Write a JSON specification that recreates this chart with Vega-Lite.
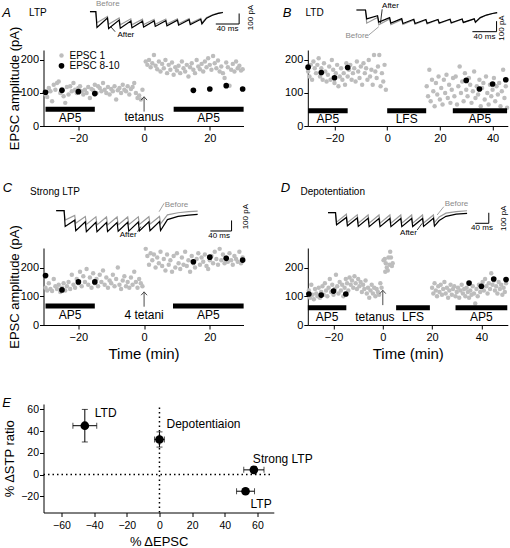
{
"$schema": "https://vega.github.io/schema/vega-lite/v6.json",
"padding": {"left": 1.5, "top": 0, "right": 0, "bottom": 0},
"bounds": "flush",
"align": "none",
"columns": 2,
"spacing": {"row": 0, "column": 64.3},
"config": {
  "font": "Liberation Sans",
  "view": {"stroke": null},
  "axis": {"domainColor": "#000", "tickColor": "#000", "labelColor": "#000", "titleColor": "#000", "tickSize": 4, "labelFontSize": 11, "titleFontSize": 13, "titleFontWeight": "normal", "grid": false, "labelOverlap": false, "labelFlush": false, "labelFont": "Liberation Sans", "titleFont": "Liberation Sans"},
  "axisX": {"labelPadding": 2},
  "axisY": {"labelPadding": 1},
  "text": {"font": "Liberation Sans", "fontSize": 12, "baseline": "middle", "color": "#000"}
},
"datasets": {
  "A": [
    {"t":-30,"a":95,"s":"EPSC 1"},{"t":-29.5,"a":88,"s":"EPSC 1"},{"t":-29,"a":115,"s":"EPSC 1"},{"t":-28.5,"a":105,"s":"EPSC 1"},{"t":-28,"a":75,"s":"EPSC 1"},{"t":-27.5,"a":125,"s":"EPSC 1"},{"t":-27,"a":110,"s":"EPSC 1"},{"t":-26.5,"a":130,"s":"EPSC 1"},{"t":-26,"a":135,"s":"EPSC 1"},{"t":-25.5,"a":100,"s":"EPSC 1"},
    {"t":-25,"a":112,"s":"EPSC 1"},{"t":-24.5,"a":90,"s":"EPSC 1"},{"t":-24,"a":70,"s":"EPSC 1"},{"t":-23.5,"a":118,"s":"EPSC 1"},{"t":-23,"a":95,"s":"EPSC 1"},{"t":-22.5,"a":120,"s":"EPSC 1"},{"t":-22,"a":105,"s":"EPSC 1"},{"t":-21.5,"a":130,"s":"EPSC 1"},{"t":-21,"a":110,"s":"EPSC 1"},{"t":-20.5,"a":100,"s":"EPSC 1"},
    {"t":-20,"a":115,"s":"EPSC 1"},{"t":-19.5,"a":120,"s":"EPSC 1"},{"t":-19,"a":105,"s":"EPSC 1"},{"t":-18.5,"a":95,"s":"EPSC 1"},{"t":-18,"a":110,"s":"EPSC 1"},{"t":-17.5,"a":100,"s":"EPSC 1"},{"t":-17,"a":118,"s":"EPSC 1"},{"t":-16.5,"a":85,"s":"EPSC 1"},{"t":-16,"a":112,"s":"EPSC 1"},{"t":-15.5,"a":108,"s":"EPSC 1"},
    {"t":-15,"a":125,"s":"EPSC 1"},{"t":-14.5,"a":100,"s":"EPSC 1"},{"t":-14,"a":120,"s":"EPSC 1"},{"t":-13.5,"a":115,"s":"EPSC 1"},{"t":-13,"a":105,"s":"EPSC 1"},{"t":-12.5,"a":130,"s":"EPSC 1"},{"t":-12,"a":110,"s":"EPSC 1"},{"t":-11.5,"a":100,"s":"EPSC 1"},{"t":-11,"a":118,"s":"EPSC 1"},{"t":-10.5,"a":95,"s":"EPSC 1"},
    {"t":-10,"a":112,"s":"EPSC 1"},{"t":-9.5,"a":105,"s":"EPSC 1"},{"t":-9,"a":120,"s":"EPSC 1"},{"t":-8.5,"a":80,"s":"EPSC 1"},{"t":-8,"a":108,"s":"EPSC 1"},{"t":-7.5,"a":115,"s":"EPSC 1"},{"t":-7,"a":100,"s":"EPSC 1"},{"t":-6.5,"a":125,"s":"EPSC 1"},{"t":-6,"a":110,"s":"EPSC 1"},{"t":-5.5,"a":105,"s":"EPSC 1"},
    {"t":-5,"a":120,"s":"EPSC 1"},{"t":-4.5,"a":95,"s":"EPSC 1"},{"t":-4,"a":112,"s":"EPSC 1"},{"t":-3.5,"a":118,"s":"EPSC 1"},{"t":-3,"a":130,"s":"EPSC 1"},{"t":-2.5,"a":100,"s":"EPSC 1"},{"t":-2,"a":85,"s":"EPSC 1"},{"t":-1.5,"a":92,"s":"EPSC 1"},{"t":-1,"a":80,"s":"EPSC 1"},{"t":-0.5,"a":110,"s":"EPSC 1"},
    {"t":0.5,"a":195,"s":"EPSC 1"},{"t":1,"a":185,"s":"EPSC 1"},{"t":1.5,"a":200,"s":"EPSC 1"},{"t":2,"a":178,"s":"EPSC 1"},{"t":2.5,"a":190,"s":"EPSC 1"},{"t":3,"a":215,"s":"EPSC 1"},{"t":3.5,"a":182,"s":"EPSC 1"},{"t":4,"a":172,"s":"EPSC 1"},{"t":4.5,"a":195,"s":"EPSC 1"},{"t":5,"a":165,"s":"EPSC 1"},
    {"t":5.5,"a":188,"s":"EPSC 1"},{"t":6,"a":175,"s":"EPSC 1"},{"t":6.5,"a":200,"s":"EPSC 1"},{"t":7,"a":160,"s":"EPSC 1"},{"t":7.5,"a":185,"s":"EPSC 1"},{"t":8,"a":170,"s":"EPSC 1"},{"t":8.5,"a":192,"s":"EPSC 1"},{"t":9,"a":155,"s":"EPSC 1"},{"t":9.5,"a":178,"s":"EPSC 1"},{"t":10,"a":168,"s":"EPSC 1"},
    {"t":10.5,"a":182,"s":"EPSC 1"},{"t":11,"a":160,"s":"EPSC 1"},{"t":11.5,"a":195,"s":"EPSC 1"},{"t":12,"a":175,"s":"EPSC 1"},{"t":12.5,"a":165,"s":"EPSC 1"},{"t":13,"a":185,"s":"EPSC 1"},{"t":13.5,"a":150,"s":"EPSC 1"},{"t":14,"a":178,"s":"EPSC 1"},{"t":14.5,"a":190,"s":"EPSC 1"},{"t":15,"a":170,"s":"EPSC 1"},
    {"t":15.5,"a":160,"s":"EPSC 1"},{"t":16,"a":200,"s":"EPSC 1"},{"t":16.5,"a":180,"s":"EPSC 1"},{"t":17,"a":172,"s":"EPSC 1"},{"t":17.5,"a":188,"s":"EPSC 1"},{"t":18,"a":165,"s":"EPSC 1"},{"t":18.5,"a":195,"s":"EPSC 1"},{"t":19,"a":178,"s":"EPSC 1"},{"t":19.5,"a":205,"s":"EPSC 1"},{"t":20,"a":185,"s":"EPSC 1"},
    {"t":20.5,"a":170,"s":"EPSC 1"},{"t":21,"a":212,"s":"EPSC 1"},{"t":21.5,"a":190,"s":"EPSC 1"},{"t":22,"a":175,"s":"EPSC 1"},{"t":22.5,"a":198,"s":"EPSC 1"},{"t":23,"a":165,"s":"EPSC 1"},{"t":23.5,"a":180,"s":"EPSC 1"},{"t":24,"a":160,"s":"EPSC 1"},{"t":24.5,"a":145,"s":"EPSC 1"},{"t":25,"a":192,"s":"EPSC 1"},
    {"t":25.5,"a":178,"s":"EPSC 1"},{"t":26,"a":122,"s":"EPSC 1"},{"t":26.5,"a":170,"s":"EPSC 1"},{"t":27,"a":188,"s":"EPSC 1"},{"t":27.5,"a":165,"s":"EPSC 1"},{"t":28,"a":195,"s":"EPSC 1"},{"t":28.5,"a":175,"s":"EPSC 1"},{"t":29,"a":182,"s":"EPSC 1"},{"t":29.5,"a":168,"s":"EPSC 1"},{"t":30,"a":172,"s":"EPSC 1"},
    {"t":-30,"a":102,"s":"EPSC 8-10"},{"t":-25,"a":108,"s":"EPSC 8-10"},{"t":-20,"a":104,"s":"EPSC 8-10"},{"t":-15,"a":98,"s":"EPSC 8-10"},{"t":15,"a":108,"s":"EPSC 8-10"},{"t":20,"a":112,"s":"EPSC 8-10"},{"t":25,"a":122,"s":"EPSC 8-10"},{"t":30,"a":112,"s":"EPSC 8-10"}
  ],
  "B": [
    {"t":-30,"a":165,"s":"EPSC 1"},{"t":-29.5,"a":150,"s":"EPSC 1"},{"t":-29,"a":185,"s":"EPSC 1"},{"t":-28.5,"a":140,"s":"EPSC 1"},{"t":-28,"a":195,"s":"EPSC 1"},{"t":-27.5,"a":175,"s":"EPSC 1"},{"t":-27,"a":160,"s":"EPSC 1"},{"t":-26.5,"a":185,"s":"EPSC 1"},{"t":-26,"a":205,"s":"EPSC 1"},{"t":-25.5,"a":150,"s":"EPSC 1"},
    {"t":-25,"a":175,"s":"EPSC 1"},{"t":-24.5,"a":140,"s":"EPSC 1"},{"t":-24,"a":190,"s":"EPSC 1"},{"t":-23.5,"a":165,"s":"EPSC 1"},{"t":-23,"a":135,"s":"EPSC 1"},{"t":-22.5,"a":155,"s":"EPSC 1"},{"t":-22,"a":180,"s":"EPSC 1"},{"t":-21.5,"a":140,"s":"EPSC 1"},{"t":-21,"a":200,"s":"EPSC 1"},{"t":-20.5,"a":170,"s":"EPSC 1"},
    {"t":-20,"a":130,"s":"EPSC 1"},{"t":-19.5,"a":160,"s":"EPSC 1"},{"t":-19,"a":185,"s":"EPSC 1"},{"t":-18.5,"a":120,"s":"EPSC 1"},{"t":-18,"a":150,"s":"EPSC 1"},{"t":-17.5,"a":175,"s":"EPSC 1"},{"t":-17,"a":140,"s":"EPSC 1"},{"t":-16.5,"a":160,"s":"EPSC 1"},{"t":-16,"a":125,"s":"EPSC 1"},{"t":-15.5,"a":190,"s":"EPSC 1"},
    {"t":-15,"a":150,"s":"EPSC 1"},{"t":-14.5,"a":170,"s":"EPSC 1"},{"t":-14,"a":185,"s":"EPSC 1"},{"t":-13.5,"a":140,"s":"EPSC 1"},{"t":-13,"a":160,"s":"EPSC 1"},{"t":-12.5,"a":175,"s":"EPSC 1"},{"t":-12,"a":135,"s":"EPSC 1"},{"t":-11.5,"a":195,"s":"EPSC 1"},{"t":-11,"a":165,"s":"EPSC 1"},{"t":-10.5,"a":145,"s":"EPSC 1"},
    {"t":-10,"a":180,"s":"EPSC 1"},{"t":-9.5,"a":125,"s":"EPSC 1"},{"t":-9,"a":190,"s":"EPSC 1"},{"t":-8.5,"a":160,"s":"EPSC 1"},{"t":-8,"a":175,"s":"EPSC 1"},{"t":-7.5,"a":140,"s":"EPSC 1"},{"t":-7,"a":200,"s":"EPSC 1"},{"t":-6.5,"a":150,"s":"EPSC 1"},{"t":-6,"a":170,"s":"EPSC 1"},{"t":-5.5,"a":125,"s":"EPSC 1"},
    {"t":-5,"a":215,"s":"EPSC 1"},{"t":-4.5,"a":165,"s":"EPSC 1"},{"t":-4,"a":145,"s":"EPSC 1"},{"t":-3.5,"a":180,"s":"EPSC 1"},{"t":-3,"a":215,"s":"EPSC 1"},{"t":-2.5,"a":120,"s":"EPSC 1"},{"t":-2,"a":160,"s":"EPSC 1"},{"t":-1.5,"a":135,"s":"EPSC 1"},{"t":-1,"a":185,"s":"EPSC 1"},{"t":-0.5,"a":110,"s":"EPSC 1"},
    {"t":15,"a":120,"s":"EPSC 1"},{"t":15.5,"a":90,"s":"EPSC 1"},{"t":16,"a":170,"s":"EPSC 1"},{"t":16.5,"a":75,"s":"EPSC 1"},{"t":17,"a":140,"s":"EPSC 1"},{"t":17.5,"a":105,"s":"EPSC 1"},{"t":18,"a":60,"s":"EPSC 1"},{"t":18.5,"a":130,"s":"EPSC 1"},{"t":19,"a":95,"s":"EPSC 1"},{"t":19.5,"a":150,"s":"EPSC 1"},
    {"t":20,"a":80,"s":"EPSC 1"},{"t":20.5,"a":115,"s":"EPSC 1"},{"t":21,"a":65,"s":"EPSC 1"},{"t":21.5,"a":140,"s":"EPSC 1"},{"t":22,"a":100,"s":"EPSC 1"},{"t":22.5,"a":155,"s":"EPSC 1"},{"t":23,"a":85,"s":"EPSC 1"},{"t":23.5,"a":125,"s":"EPSC 1"},{"t":24,"a":70,"s":"EPSC 1"},{"t":24.5,"a":110,"s":"EPSC 1"},
    {"t":25,"a":145,"s":"EPSC 1"},{"t":25.5,"a":90,"s":"EPSC 1"},{"t":26,"a":150,"s":"EPSC 1"},{"t":26.5,"a":65,"s":"EPSC 1"},{"t":27,"a":120,"s":"EPSC 1"},{"t":27.5,"a":180,"s":"EPSC 1"},{"t":28,"a":100,"s":"EPSC 1"},{"t":28.5,"a":135,"s":"EPSC 1"},{"t":29,"a":75,"s":"EPSC 1"},{"t":29.5,"a":160,"s":"EPSC 1"},
    {"t":30,"a":110,"s":"EPSC 1"},{"t":30.5,"a":90,"s":"EPSC 1"},{"t":31,"a":145,"s":"EPSC 1"},{"t":31.5,"a":125,"s":"EPSC 1"},{"t":32,"a":70,"s":"EPSC 1"},{"t":32.5,"a":105,"s":"EPSC 1"},{"t":33,"a":165,"s":"EPSC 1"},{"t":33.5,"a":85,"s":"EPSC 1"},{"t":34,"a":120,"s":"EPSC 1"},{"t":34.5,"a":95,"s":"EPSC 1"},
    {"t":35,"a":140,"s":"EPSC 1"},{"t":35.5,"a":60,"s":"EPSC 1"},{"t":36,"a":115,"s":"EPSC 1"},{"t":36.5,"a":130,"s":"EPSC 1"},{"t":37,"a":80,"s":"EPSC 1"},{"t":37.5,"a":150,"s":"EPSC 1"},{"t":38,"a":100,"s":"EPSC 1"},{"t":38.5,"a":65,"s":"EPSC 1"},{"t":39,"a":125,"s":"EPSC 1"},{"t":39.5,"a":90,"s":"EPSC 1"},
    {"t":40,"a":110,"s":"EPSC 1"},{"t":40.5,"a":145,"s":"EPSC 1"},{"t":41,"a":75,"s":"EPSC 1"},{"t":41.5,"a":120,"s":"EPSC 1"},{"t":42,"a":95,"s":"EPSC 1"},{"t":42.5,"a":130,"s":"EPSC 1"},{"t":43,"a":60,"s":"EPSC 1"},{"t":43.5,"a":105,"s":"EPSC 1"},{"t":44,"a":170,"s":"EPSC 1"},{"t":44.5,"a":85,"s":"EPSC 1"},
    {"t":45,"a":120,"s":"EPSC 1"},{"t":45.5,"a":55,"s":"EPSC 1"},
    {"t":-30,"a":178,"s":"EPSC 8-10"},{"t":-25,"a":162,"s":"EPSC 8-10"},{"t":-20,"a":146,"s":"EPSC 8-10"},{"t":-15,"a":177,"s":"EPSC 8-10"},{"t":30,"a":138,"s":"EPSC 8-10"},{"t":35,"a":112,"s":"EPSC 8-10"},{"t":40,"a":127,"s":"EPSC 8-10"},{"t":45,"a":140,"s":"EPSC 8-10"}
  ],
  "C": [
    {"t":-30,"a":130,"s":"EPSC 1"},{"t":-29.5,"a":120,"s":"EPSC 1"},{"t":-29,"a":145,"s":"EPSC 1"},{"t":-28.5,"a":125,"s":"EPSC 1"},{"t":-28,"a":118,"s":"EPSC 1"},{"t":-27.5,"a":160,"s":"EPSC 1"},{"t":-27,"a":135,"s":"EPSC 1"},{"t":-26.5,"a":125,"s":"EPSC 1"},{"t":-26,"a":140,"s":"EPSC 1"},{"t":-25.5,"a":115,"s":"EPSC 1"},
    {"t":-25,"a":130,"s":"EPSC 1"},{"t":-24.5,"a":145,"s":"EPSC 1"},{"t":-24,"a":120,"s":"EPSC 1"},{"t":-23.5,"a":135,"s":"EPSC 1"},{"t":-23,"a":150,"s":"EPSC 1"},{"t":-22.5,"a":125,"s":"EPSC 1"},{"t":-22,"a":175,"s":"EPSC 1"},{"t":-21.5,"a":140,"s":"EPSC 1"},{"t":-21,"a":130,"s":"EPSC 1"},{"t":-20.5,"a":160,"s":"EPSC 1"},
    {"t":-20,"a":145,"s":"EPSC 1"},{"t":-19.5,"a":185,"s":"EPSC 1"},{"t":-19,"a":135,"s":"EPSC 1"},{"t":-18.5,"a":170,"s":"EPSC 1"},{"t":-18,"a":150,"s":"EPSC 1"},{"t":-17.5,"a":195,"s":"EPSC 1"},{"t":-17,"a":140,"s":"EPSC 1"},{"t":-16.5,"a":165,"s":"EPSC 1"},{"t":-16,"a":130,"s":"EPSC 1"},{"t":-15.5,"a":180,"s":"EPSC 1"},
    {"t":-15,"a":145,"s":"EPSC 1"},{"t":-14.5,"a":160,"s":"EPSC 1"},{"t":-14,"a":135,"s":"EPSC 1"},{"t":-13.5,"a":175,"s":"EPSC 1"},{"t":-13,"a":150,"s":"EPSC 1"},{"t":-12.5,"a":190,"s":"EPSC 1"},{"t":-12,"a":140,"s":"EPSC 1"},{"t":-11.5,"a":165,"s":"EPSC 1"},{"t":-11,"a":130,"s":"EPSC 1"},{"t":-10.5,"a":155,"s":"EPSC 1"},
    {"t":-10,"a":145,"s":"EPSC 1"},{"t":-9.5,"a":175,"s":"EPSC 1"},{"t":-9,"a":135,"s":"EPSC 1"},{"t":-8.5,"a":160,"s":"EPSC 1"},{"t":-8,"a":200,"s":"EPSC 1"},{"t":-7.5,"a":140,"s":"EPSC 1"},{"t":-7,"a":125,"s":"EPSC 1"},{"t":-6.5,"a":155,"s":"EPSC 1"},{"t":-6,"a":170,"s":"EPSC 1"},{"t":-5.5,"a":135,"s":"EPSC 1"},
    {"t":-5,"a":150,"s":"EPSC 1"},{"t":-4.5,"a":130,"s":"EPSC 1"},{"t":-4,"a":165,"s":"EPSC 1"},{"t":-3.5,"a":140,"s":"EPSC 1"},{"t":-3,"a":185,"s":"EPSC 1"},{"t":-2.5,"a":150,"s":"EPSC 1"},{"t":-2,"a":130,"s":"EPSC 1"},{"t":-1.5,"a":160,"s":"EPSC 1"},{"t":-1,"a":145,"s":"EPSC 1"},{"t":-0.5,"a":135,"s":"EPSC 1"},
    {"t":0.5,"a":265,"s":"EPSC 1"},{"t":1,"a":240,"s":"EPSC 1"},{"t":1.5,"a":210,"s":"EPSC 1"},{"t":2,"a":250,"s":"EPSC 1"},{"t":2.5,"a":225,"s":"EPSC 1"},{"t":3,"a":245,"s":"EPSC 1"},{"t":3.5,"a":200,"s":"EPSC 1"},{"t":4,"a":235,"s":"EPSC 1"},{"t":4.5,"a":215,"s":"EPSC 1"},{"t":5,"a":255,"s":"EPSC 1"},
    {"t":5.5,"a":205,"s":"EPSC 1"},{"t":6,"a":230,"s":"EPSC 1"},{"t":6.5,"a":190,"s":"EPSC 1"},{"t":7,"a":245,"s":"EPSC 1"},{"t":7.5,"a":210,"s":"EPSC 1"},{"t":8,"a":225,"s":"EPSC 1"},{"t":8.5,"a":185,"s":"EPSC 1"},{"t":9,"a":240,"s":"EPSC 1"},{"t":9.5,"a":200,"s":"EPSC 1"},{"t":10,"a":250,"s":"EPSC 1"},
    {"t":10.5,"a":215,"s":"EPSC 1"},{"t":11,"a":195,"s":"EPSC 1"},{"t":11.5,"a":235,"s":"EPSC 1"},{"t":12,"a":210,"s":"EPSC 1"},{"t":12.5,"a":255,"s":"EPSC 1"},{"t":13,"a":205,"s":"EPSC 1"},{"t":13.5,"a":225,"s":"EPSC 1"},{"t":14,"a":185,"s":"EPSC 1"},{"t":14.5,"a":240,"s":"EPSC 1"},{"t":15,"a":215,"s":"EPSC 1"},
    {"t":15.5,"a":200,"s":"EPSC 1"},{"t":16,"a":230,"s":"EPSC 1"},{"t":16.5,"a":250,"s":"EPSC 1"},{"t":17,"a":210,"s":"EPSC 1"},{"t":17.5,"a":235,"s":"EPSC 1"},{"t":18,"a":220,"s":"EPSC 1"},{"t":18.5,"a":245,"s":"EPSC 1"},{"t":19,"a":205,"s":"EPSC 1"},{"t":19.5,"a":195,"s":"EPSC 1"},{"t":20,"a":225,"s":"EPSC 1"},
    {"t":20.5,"a":240,"s":"EPSC 1"},{"t":21,"a":215,"s":"EPSC 1"},{"t":21.5,"a":255,"s":"EPSC 1"},{"t":22,"a":230,"s":"EPSC 1"},{"t":22.5,"a":210,"s":"EPSC 1"},{"t":23,"a":265,"s":"EPSC 1"},{"t":23.5,"a":225,"s":"EPSC 1"},{"t":24,"a":245,"s":"EPSC 1"},{"t":24.5,"a":215,"s":"EPSC 1"},{"t":25,"a":235,"s":"EPSC 1"},
    {"t":25.5,"a":220,"s":"EPSC 1"},{"t":26,"a":250,"s":"EPSC 1"},{"t":26.5,"a":225,"s":"EPSC 1"},{"t":27,"a":210,"s":"EPSC 1"},{"t":27.5,"a":240,"s":"EPSC 1"},{"t":28,"a":230,"s":"EPSC 1"},{"t":28.5,"a":220,"s":"EPSC 1"},{"t":29,"a":255,"s":"EPSC 1"},{"t":29.5,"a":215,"s":"EPSC 1"},{"t":30,"a":235,"s":"EPSC 1"},
    {"t":-30,"a":172,"s":"EPSC 8-10"},{"t":-25,"a":122,"s":"EPSC 8-10"},{"t":-20,"a":150,"s":"EPSC 8-10"},{"t":-15,"a":150,"s":"EPSC 8-10"},{"t":15,"a":220,"s":"EPSC 8-10"},{"t":20,"a":236,"s":"EPSC 8-10"},{"t":25,"a":232,"s":"EPSC 8-10"},{"t":30,"a":226,"s":"EPSC 8-10"}
  ],
  "D": [
    {"t":-30,"a":120,"s":"EPSC 1"},{"t":-29.5,"a":95,"s":"EPSC 1"},{"t":-29,"a":140,"s":"EPSC 1"},{"t":-28.5,"a":105,"s":"EPSC 1"},{"t":-28,"a":90,"s":"EPSC 1"},{"t":-27.5,"a":125,"s":"EPSC 1"},{"t":-27,"a":110,"s":"EPSC 1"},{"t":-26.5,"a":100,"s":"EPSC 1"},{"t":-26,"a":130,"s":"EPSC 1"},{"t":-25.5,"a":95,"s":"EPSC 1"},
    {"t":-25,"a":115,"s":"EPSC 1"},{"t":-24.5,"a":135,"s":"EPSC 1"},{"t":-24,"a":105,"s":"EPSC 1"},{"t":-23.5,"a":145,"s":"EPSC 1"},{"t":-23,"a":120,"s":"EPSC 1"},{"t":-22.5,"a":100,"s":"EPSC 1"},{"t":-22,"a":130,"s":"EPSC 1"},{"t":-21.5,"a":160,"s":"EPSC 1"},{"t":-21,"a":115,"s":"EPSC 1"},{"t":-20.5,"a":140,"s":"EPSC 1"},
    {"t":-20,"a":105,"s":"EPSC 1"},{"t":-19.5,"a":125,"s":"EPSC 1"},{"t":-19,"a":175,"s":"EPSC 1"},{"t":-18.5,"a":135,"s":"EPSC 1"},{"t":-18,"a":110,"s":"EPSC 1"},{"t":-17.5,"a":150,"s":"EPSC 1"},{"t":-17,"a":120,"s":"EPSC 1"},{"t":-16.5,"a":140,"s":"EPSC 1"},{"t":-16,"a":100,"s":"EPSC 1"},{"t":-15.5,"a":130,"s":"EPSC 1"},
    {"t":-15,"a":160,"s":"EPSC 1"},{"t":-14.5,"a":145,"s":"EPSC 1"},{"t":-14,"a":120,"s":"EPSC 1"},{"t":-13.5,"a":165,"s":"EPSC 1"},{"t":-13,"a":140,"s":"EPSC 1"},{"t":-12.5,"a":155,"s":"EPSC 1"},{"t":-12,"a":130,"s":"EPSC 1"},{"t":-11.5,"a":170,"s":"EPSC 1"},{"t":-11,"a":145,"s":"EPSC 1"},{"t":-10.5,"a":125,"s":"EPSC 1"},
    {"t":-10,"a":160,"s":"EPSC 1"},{"t":-9.5,"a":135,"s":"EPSC 1"},{"t":-9,"a":150,"s":"EPSC 1"},{"t":-8.5,"a":115,"s":"EPSC 1"},{"t":-8,"a":140,"s":"EPSC 1"},{"t":-7.5,"a":125,"s":"EPSC 1"},{"t":-7,"a":155,"s":"EPSC 1"},{"t":-6.5,"a":110,"s":"EPSC 1"},{"t":-6,"a":130,"s":"EPSC 1"},{"t":-5.5,"a":95,"s":"EPSC 1"},
    {"t":-5,"a":120,"s":"EPSC 1"},{"t":-4.5,"a":140,"s":"EPSC 1"},{"t":-4,"a":110,"s":"EPSC 1"},{"t":-3.5,"a":130,"s":"EPSC 1"},{"t":-3,"a":100,"s":"EPSC 1"},{"t":-2.5,"a":125,"s":"EPSC 1"},{"t":-2,"a":115,"s":"EPSC 1"},{"t":-1.5,"a":105,"s":"EPSC 1"},{"t":-1,"a":145,"s":"EPSC 1"},{"t":-0.5,"a":130,"s":"EPSC 1"},
    {"t":0.3,"a":225,"s":"EPSC 1"},{"t":0.8,"a":230,"s":"EPSC 1"},{"t":1,"a":185,"s":"EPSC 1"},{"t":1.2,"a":215,"s":"EPSC 1"},{"t":1.6,"a":200,"s":"EPSC 1"},{"t":2,"a":190,"s":"EPSC 1"},{"t":2.3,"a":235,"s":"EPSC 1"},{"t":2.7,"a":210,"s":"EPSC 1"},{"t":3,"a":255,"s":"EPSC 1"},{"t":3.3,"a":235,"s":"EPSC 1"},{"t":3.7,"a":205,"s":"EPSC 1"},{"t":4,"a":215,"s":"EPSC 1"},
    {"t":20,"a":130,"s":"EPSC 1"},{"t":20.5,"a":110,"s":"EPSC 1"},{"t":21,"a":145,"s":"EPSC 1"},{"t":21.5,"a":120,"s":"EPSC 1"},{"t":22,"a":100,"s":"EPSC 1"},{"t":22.5,"a":135,"s":"EPSC 1"},{"t":23,"a":115,"s":"EPSC 1"},{"t":23.5,"a":140,"s":"EPSC 1"},{"t":24,"a":105,"s":"EPSC 1"},{"t":24.5,"a":125,"s":"EPSC 1"},
    {"t":25,"a":150,"s":"EPSC 1"},{"t":25.5,"a":110,"s":"EPSC 1"},{"t":26,"a":130,"s":"EPSC 1"},{"t":26.5,"a":95,"s":"EPSC 1"},{"t":27,"a":120,"s":"EPSC 1"},{"t":27.5,"a":140,"s":"EPSC 1"},{"t":28,"a":105,"s":"EPSC 1"},{"t":28.5,"a":125,"s":"EPSC 1"},{"t":29,"a":135,"s":"EPSC 1"},{"t":29.5,"a":100,"s":"EPSC 1"},
    {"t":30,"a":115,"s":"EPSC 1"},{"t":30.5,"a":130,"s":"EPSC 1"},{"t":31,"a":95,"s":"EPSC 1"},{"t":31.5,"a":120,"s":"EPSC 1"},{"t":32,"a":140,"s":"EPSC 1"},{"t":32.5,"a":110,"s":"EPSC 1"},{"t":33,"a":125,"s":"EPSC 1"},{"t":33.5,"a":100,"s":"EPSC 1"},{"t":34,"a":130,"s":"EPSC 1"},{"t":34.5,"a":115,"s":"EPSC 1"},
    {"t":35,"a":95,"s":"EPSC 1"},{"t":35.5,"a":120,"s":"EPSC 1"},{"t":36,"a":105,"s":"EPSC 1"},{"t":36.5,"a":135,"s":"EPSC 1"},{"t":37,"a":110,"s":"EPSC 1"},{"t":37.5,"a":75,"s":"EPSC 1"},{"t":38,"a":125,"s":"EPSC 1"},{"t":38.5,"a":100,"s":"EPSC 1"},{"t":39,"a":140,"s":"EPSC 1"},{"t":39.5,"a":115,"s":"EPSC 1"},
    {"t":40,"a":130,"s":"EPSC 1"},{"t":40.5,"a":150,"s":"EPSC 1"},{"t":41,"a":120,"s":"EPSC 1"},{"t":41.5,"a":160,"s":"EPSC 1"},{"t":42,"a":135,"s":"EPSC 1"},{"t":42.5,"a":110,"s":"EPSC 1"},{"t":43,"a":145,"s":"EPSC 1"},{"t":43.5,"a":125,"s":"EPSC 1"},{"t":44,"a":180,"s":"EPSC 1"},{"t":44.5,"a":140,"s":"EPSC 1"},
    {"t":45,"a":155,"s":"EPSC 1"},{"t":45.5,"a":120,"s":"EPSC 1"},{"t":46,"a":135,"s":"EPSC 1"},{"t":46.5,"a":110,"s":"EPSC 1"},{"t":47,"a":150,"s":"EPSC 1"},{"t":47.5,"a":125,"s":"EPSC 1"},{"t":48,"a":140,"s":"EPSC 1"},{"t":48.5,"a":105,"s":"EPSC 1"},{"t":49,"a":130,"s":"EPSC 1"},{"t":49.5,"a":115,"s":"EPSC 1"},{"t":50,"a":145,"s":"EPSC 1"},
    {"t":-30,"a":108,"s":"EPSC 8-10"},{"t":-25,"a":104,"s":"EPSC 8-10"},{"t":-20,"a":118,"s":"EPSC 8-10"},{"t":-15,"a":108,"s":"EPSC 8-10"},{"t":35,"a":146,"s":"EPSC 8-10"},{"t":40,"a":135,"s":"EPSC 8-10"},{"t":45,"a":160,"s":"EPSC 8-10"},{"t":50,"a":158,"s":"EPSC 8-10"}
  ],
  "barsA": [{"id":1,"start":-30,"end":-15,"label":"AP5"},{"id":2,"start":9,"end":30.3,"label":"AP5"}],
  "barsB": [{"id":1,"start":-30,"end":-15,"label":"AP5"},{"id":2,"start":0,"end":14.8,"label":"LFS"},{"id":3,"start":24.9,"end":45.5,"label":"AP5"}],
  "barsC": [{"id":1,"start":-30,"end":-15,"label":"AP5"},{"id":2,"start":8.8,"end":30.3,"label":"AP5"}],
  "barsD": [{"id":1,"start":-30.4,"end":-14.8,"label":"AP5"},{"id":2,"start":5.4,"end":19.1,"label":"LFS"},{"id":3,"start":29.5,"end":50.5,"label":"AP5"}],
  "trA": [
    {"ms":-10,"pA":0,"sw":"Before"},{"ms":0,"pA":0,"sw":"Before"},{"ms":2,"pA":-105,"sw":"Before"},{"ms":20,"pA":-45,"sw":"Before"},{"ms":22,"pA":-120,"sw":"Before"},{"ms":40,"pA":-60,"sw":"Before"},{"ms":42,"pA":-125,"sw":"Before"},{"ms":60,"pA":-68,"sw":"Before"},{"ms":62,"pA":-125,"sw":"Before"},{"ms":80,"pA":-72,"sw":"Before"},{"ms":82,"pA":-122,"sw":"Before"},{"ms":100,"pA":-72,"sw":"Before"},{"ms":102,"pA":-120,"sw":"Before"},{"ms":120,"pA":-70,"sw":"Before"},{"ms":122,"pA":-117,"sw":"Before"},{"ms":140,"pA":-68,"sw":"Before"},{"ms":142,"pA":-114,"sw":"Before"},{"ms":160,"pA":-66,"sw":"Before"},{"ms":162,"pA":-110,"sw":"Before"},{"ms":180,"pA":-64,"sw":"Before"},{"ms":182,"pA":-106,"sw":"Before"},{"ms":190,"pA":-55,"sw":"Before"},{"ms":200,"pA":-30,"sw":"Before"},{"ms":210,"pA":-14,"sw":"Before"},{"ms":218,"pA":-6,"sw":"Before"},
    {"ms":-10,"pA":0,"sw":"After"},{"ms":0,"pA":0,"sw":"After"},{"ms":2,"pA":-150,"sw":"After"},{"ms":20,"pA":-60,"sw":"After"},{"ms":22,"pA":-160,"sw":"After"},{"ms":40,"pA":-80,"sw":"After"},{"ms":42,"pA":-158,"sw":"After"},{"ms":60,"pA":-88,"sw":"After"},{"ms":62,"pA":-152,"sw":"After"},{"ms":80,"pA":-90,"sw":"After"},{"ms":82,"pA":-146,"sw":"After"},{"ms":100,"pA":-88,"sw":"After"},{"ms":102,"pA":-140,"sw":"After"},{"ms":120,"pA":-85,"sw":"After"},{"ms":122,"pA":-134,"sw":"After"},{"ms":140,"pA":-80,"sw":"After"},{"ms":142,"pA":-128,"sw":"After"},{"ms":160,"pA":-76,"sw":"After"},{"ms":162,"pA":-122,"sw":"After"},{"ms":180,"pA":-72,"sw":"After"},{"ms":182,"pA":-116,"sw":"After"},{"ms":190,"pA":-62,"sw":"After"},{"ms":200,"pA":-34,"sw":"After"},{"ms":210,"pA":-16,"sw":"After"},{"ms":218,"pA":-8,"sw":"After"}
  ],
  "trB": [
    {"ms":-15,"pA":0,"sw":"Before"},{"ms":0,"pA":0,"sw":"Before"},{"ms":2,"pA":-125,"sw":"Before"},{"ms":20,"pA":-70,"sw":"Before"},{"ms":22,"pA":-140,"sw":"Before"},{"ms":40,"pA":-85,"sw":"Before"},{"ms":42,"pA":-140,"sw":"Before"},{"ms":60,"pA":-92,"sw":"Before"},{"ms":62,"pA":-138,"sw":"Before"},{"ms":80,"pA":-95,"sw":"Before"},{"ms":82,"pA":-135,"sw":"Before"},{"ms":100,"pA":-95,"sw":"Before"},{"ms":102,"pA":-132,"sw":"Before"},{"ms":120,"pA":-93,"sw":"Before"},{"ms":122,"pA":-128,"sw":"Before"},{"ms":140,"pA":-90,"sw":"Before"},{"ms":142,"pA":-125,"sw":"Before"},{"ms":160,"pA":-88,"sw":"Before"},{"ms":162,"pA":-122,"sw":"Before"},{"ms":180,"pA":-85,"sw":"Before"},{"ms":182,"pA":-118,"sw":"Before"},{"ms":190,"pA":-75,"sw":"Before"},{"ms":200,"pA":-50,"sw":"Before"},{"ms":210,"pA":-35,"sw":"Before"},{"ms":218,"pA":-26,"sw":"Before"},
    {"ms":-15,"pA":0,"sw":"After"},{"ms":0,"pA":0,"sw":"After"},{"ms":2,"pA":-85,"sw":"After"},{"ms":20,"pA":-55,"sw":"After"},{"ms":22,"pA":-115,"sw":"After"},{"ms":40,"pA":-72,"sw":"After"},{"ms":42,"pA":-125,"sw":"After"},{"ms":60,"pA":-82,"sw":"After"},{"ms":62,"pA":-128,"sw":"After"},{"ms":80,"pA":-88,"sw":"After"},{"ms":82,"pA":-128,"sw":"After"},{"ms":100,"pA":-90,"sw":"After"},{"ms":102,"pA":-126,"sw":"After"},{"ms":120,"pA":-90,"sw":"After"},{"ms":122,"pA":-124,"sw":"After"},{"ms":140,"pA":-88,"sw":"After"},{"ms":142,"pA":-121,"sw":"After"},{"ms":160,"pA":-86,"sw":"After"},{"ms":162,"pA":-118,"sw":"After"},{"ms":180,"pA":-84,"sw":"After"},{"ms":182,"pA":-115,"sw":"After"},{"ms":190,"pA":-72,"sw":"After"},{"ms":200,"pA":-48,"sw":"After"},{"ms":210,"pA":-33,"sw":"After"},{"ms":218,"pA":-25,"sw":"After"}
  ],
  "trC": [
    {"ms":-15,"pA":0,"sw":"Before"},{"ms":0,"pA":0,"sw":"Before"},{"ms":2,"pA":-90,"sw":"Before"},{"ms":20,"pA":-45,"sw":"Before"},{"ms":22,"pA":-120,"sw":"Before"},{"ms":40,"pA":-55,"sw":"Before"},{"ms":42,"pA":-130,"sw":"Before"},{"ms":60,"pA":-58,"sw":"Before"},{"ms":62,"pA":-135,"sw":"Before"},{"ms":80,"pA":-60,"sw":"Before"},{"ms":82,"pA":-135,"sw":"Before"},{"ms":100,"pA":-60,"sw":"Before"},{"ms":102,"pA":-135,"sw":"Before"},{"ms":120,"pA":-60,"sw":"Before"},{"ms":122,"pA":-133,"sw":"Before"},{"ms":140,"pA":-58,"sw":"Before"},{"ms":142,"pA":-130,"sw":"Before"},{"ms":160,"pA":-57,"sw":"Before"},{"ms":162,"pA":-128,"sw":"Before"},{"ms":180,"pA":-55,"sw":"Before"},{"ms":182,"pA":-125,"sw":"Before"},{"ms":195,"pA":-40,"sw":"Before"},{"ms":215,"pA":-20,"sw":"Before"},{"ms":235,"pA":-10,"sw":"Before"},{"ms":252,"pA":-5,"sw":"Before"},
    {"ms":-15,"pA":0,"sw":"After"},{"ms":0,"pA":0,"sw":"After"},{"ms":2,"pA":-150,"sw":"After"},{"ms":20,"pA":-90,"sw":"After"},{"ms":22,"pA":-190,"sw":"After"},{"ms":40,"pA":-105,"sw":"After"},{"ms":42,"pA":-200,"sw":"After"},{"ms":60,"pA":-110,"sw":"After"},{"ms":62,"pA":-200,"sw":"After"},{"ms":80,"pA":-112,"sw":"After"},{"ms":82,"pA":-198,"sw":"After"},{"ms":100,"pA":-112,"sw":"After"},{"ms":102,"pA":-196,"sw":"After"},{"ms":120,"pA":-110,"sw":"After"},{"ms":122,"pA":-194,"sw":"After"},{"ms":140,"pA":-108,"sw":"After"},{"ms":142,"pA":-192,"sw":"After"},{"ms":160,"pA":-106,"sw":"After"},{"ms":162,"pA":-190,"sw":"After"},{"ms":180,"pA":-104,"sw":"After"},{"ms":182,"pA":-188,"sw":"After"},{"ms":195,"pA":-85,"sw":"After"},{"ms":215,"pA":-55,"sw":"After"},{"ms":235,"pA":-42,"sw":"After"},{"ms":252,"pA":-35,"sw":"After"}
  ],
  "trD": [
    {"ms":-22,"pA":0,"sw":"Before"},{"ms":0,"pA":0,"sw":"Before"},{"ms":3,"pA":-90,"sw":"Before"},{"ms":32,"pA":-15,"sw":"Before"},{"ms":35,"pA":-95,"sw":"Before"},{"ms":64,"pA":-20,"sw":"Before"},{"ms":67,"pA":-100,"sw":"Before"},{"ms":96,"pA":-22,"sw":"Before"},{"ms":99,"pA":-100,"sw":"Before"},{"ms":128,"pA":-22,"sw":"Before"},{"ms":131,"pA":-100,"sw":"Before"},{"ms":160,"pA":-22,"sw":"Before"},{"ms":163,"pA":-100,"sw":"Before"},{"ms":192,"pA":-22,"sw":"Before"},{"ms":195,"pA":-100,"sw":"Before"},{"ms":224,"pA":-22,"sw":"Before"},{"ms":227,"pA":-100,"sw":"Before"},{"ms":256,"pA":-22,"sw":"Before"},{"ms":259,"pA":-98,"sw":"Before"},{"ms":288,"pA":-22,"sw":"Before"},{"ms":291,"pA":-95,"sw":"Before"},{"ms":305,"pA":-40,"sw":"Before"},{"ms":325,"pA":-5,"sw":"Before"},{"ms":355,"pA":10,"sw":"Before"},{"ms":387,"pA":18,"sw":"Before"},
    {"ms":-22,"pA":0,"sw":"After"},{"ms":0,"pA":0,"sw":"After"},{"ms":3,"pA":-115,"sw":"After"},{"ms":32,"pA":-45,"sw":"After"},{"ms":35,"pA":-125,"sw":"After"},{"ms":64,"pA":-50,"sw":"After"},{"ms":67,"pA":-130,"sw":"After"},{"ms":96,"pA":-53,"sw":"After"},{"ms":99,"pA":-133,"sw":"After"},{"ms":128,"pA":-55,"sw":"After"},{"ms":131,"pA":-133,"sw":"After"},{"ms":160,"pA":-55,"sw":"After"},{"ms":163,"pA":-133,"sw":"After"},{"ms":192,"pA":-55,"sw":"After"},{"ms":195,"pA":-133,"sw":"After"},{"ms":224,"pA":-55,"sw":"After"},{"ms":227,"pA":-132,"sw":"After"},{"ms":256,"pA":-55,"sw":"After"},{"ms":259,"pA":-130,"sw":"After"},{"ms":288,"pA":-53,"sw":"After"},{"ms":291,"pA":-128,"sw":"After"},{"ms":305,"pA":-75,"sw":"After"},{"ms":325,"pA":-35,"sw":"After"},{"ms":355,"pA":-14,"sw":"After"},{"ms":387,"pA":-6,"sw":"After"}
  ],
  "E": [
    {"c":"LTD","x":-45.7,"xlo":-53,"xhi":-38.4,"y":45,"ylo":30,"yhi":60},
    {"c":"Depotentiaion","x":0,"xlo":-3,"xhi":3,"y":32.3,"ylo":25.3,"yhi":39.3},
    {"c":"Strong LTP","x":57.8,"xlo":51.6,"xhi":64,"y":4.3,"ylo":1.3,"yhi":7.3},
    {"c":"LTP","x":52.7,"xlo":47.2,"xhi":58.2,"y":-15.4,"ylo":-17.4,"yhi":-13.4}
  ]
},
"concat": [
  {"width": 200, "height": 46, "layer": [
    {"data": {"name": "trA"}, "transform": [{"filter": "datum.sw === 'Before'"}], "mark": {"type": "line", "color": "#9a9a9a", "strokeWidth": 1.2},
     "encoding": {"x": {"field": "ms", "type": "quantitative", "scale": {"domain": [-89.7, 253.3], "nice": false, "zero": false}, "axis": null}, "y": {"field": "pA", "type": "quantitative", "scale": {"domain": [-364, 73], "nice": false, "zero": false}, "axis": null}}},
    {"data": {"name": "trA"}, "transform": [{"filter": "datum.sw === 'After'"}], "mark": {"type": "line", "color": "#000", "strokeWidth": 1.2},
     "encoding": {"x": {"field": "ms", "type": "quantitative"}, "y": {"field": "pA", "type": "quantitative"}}},
    {"data": {"values": [{}]}, "mark": {"type": "rule", "color": "#000"}, "encoding": {"x": {"datum": 205.8, "type": "quantitative"}, "x2": {"datum": 245.8}, "y": {"datum": -117, "type": "quantitative"}}},
    {"data": {"values": [{}]}, "mark": {"type": "rule", "color": "#000"}, "encoding": {"x": {"datum": 245.8, "type": "quantitative"}, "y": {"datum": -117, "type": "quantitative"}, "y2": {"datum": -17}}},
    {"data": {"values": [{}]}, "mark": {"type": "rule", "color": "#000", "strokeWidth": 0.8}, "encoding": {"x": {"datum": 33.1, "type": "quantitative"}, "x2": {"datum": 25.7}, "y": {"datum": -190, "type": "quantitative"}, "y2": {"datum": -143}}},
    {"data": {"values": [{}]}, "mark": {"type": "text", "fontSize": 8}, "encoding": {"x": {"datum": 225.9, "type": "quantitative"}, "y": {"datum": -167, "type": "quantitative"}, "text": {"value": "40 ms"}}},
    {"data": {"values": [{}]}, "mark": {"type": "text", "fontSize": 8, "angle": 270}, "encoding": {"x": {"datum": 265.9, "type": "quantitative"}, "y": {"datum": -55, "type": "quantitative"}, "text": {"value": "100 pA"}}},
    {"data": {"values": [{}]}, "mark": {"type": "text", "fontSize": 8, "color": "#8a8a8a"}, "encoding": {"x": {"datum": 20.6, "type": "quantitative"}, "y": {"datum": 73, "type": "quantitative"}, "text": {"value": "Before"}}},
    {"data": {"values": [{}]}, "mark": {"type": "text", "fontSize": 8}, "encoding": {"x": {"datum": 51.5, "type": "quantitative"}, "y": {"datum": -221, "type": "quantitative"}, "text": {"value": "After"}}},
    {"data": {"values": [{}]}, "mark": {"type": "text", "fontSize": 13, "fontStyle": "italic"}, "encoding": {"x": {"datum": -153, "type": "quantitative"}, "y": {"datum": -8, "type": "quantitative"}, "text": {"value": "A"}}},
    {"data": {"values": [{}]}, "mark": {"type": "text", "fontSize": 10, "align": "left"}, "encoding": {"x": {"datum": -114.4, "type": "quantitative"}, "y": {"datum": -15, "type": "quantitative"}, "text": {"value": "LTP"}}}
  ]},
  {"width": 200, "height": 46, "layer": [
    {"data": {"name": "trB"}, "transform": [{"filter": "datum.sw === 'Before'"}], "mark": {"type": "line", "color": "#9a9a9a", "strokeWidth": 1.2},
     "encoding": {"x": {"field": "ms", "type": "quantitative", "scale": {"domain": [-95.5, 235.6], "nice": false, "zero": false}, "axis": null}, "y": {"field": "pA", "type": "quantitative", "scale": {"domain": [-380, 57], "nice": false, "zero": false}, "axis": null}}},
    {"data": {"name": "trB"}, "transform": [{"filter": "datum.sw === 'After'"}], "mark": {"type": "line", "color": "#000", "strokeWidth": 1.2},
     "encoding": {"x": {"field": "ms", "type": "quantitative"}, "y": {"field": "pA", "type": "quantitative"}}},
    {"data": {"values": [{}]}, "mark": {"type": "rule", "color": "#000"}, "encoding": {"x": {"datum": 177, "type": "quantitative"}, "x2": {"datum": 217}, "y": {"datum": -206, "type": "quantitative"}}},
    {"data": {"values": [{}]}, "mark": {"type": "rule", "color": "#000"}, "encoding": {"x": {"datum": 217, "type": "quantitative"}, "y": {"datum": -206, "type": "quantitative"}, "y2": {"datum": -106}}},
    {"data": {"values": [{}]}, "mark": {"type": "rule", "color": "#000", "strokeWidth": 0.8}, "encoding": {"x": {"datum": 27.6, "type": "quantitative"}, "x2": {"datum": 24.8}, "y": {"datum": 6.6, "type": "quantitative"}, "y2": {"datum": -126}}},
    {"data": {"values": [{}]}, "mark": {"type": "rule", "color": "#8a8a8a", "strokeWidth": 0.8}, "encoding": {"x": {"datum": 5.5, "type": "quantitative"}, "x2": {"datum": 22}, "y": {"datum": -237.5, "type": "quantitative"}, "y2": {"datum": -158.6}}},
    {"data": {"values": [{}]}, "mark": {"type": "text", "fontSize": 8}, "encoding": {"x": {"datum": 197, "type": "quantitative"}, "y": {"datum": -254, "type": "quantitative"}, "text": {"value": "40 ms"}}},
    {"data": {"values": [{}]}, "mark": {"type": "text", "fontSize": 8, "angle": 270}, "encoding": {"x": {"datum": 226, "type": "quantitative"}, "y": {"datum": -171, "type": "quantitative"}, "text": {"value": "100 pA"}}},
    {"data": {"values": [{}]}, "mark": {"type": "text", "fontSize": 8, "color": "#8a8a8a"}, "encoding": {"x": {"datum": -13.7, "type": "quantitative"}, "y": {"datum": -247, "type": "quantitative"}, "text": {"value": "Before"}}},
    {"data": {"values": [{}]}, "mark": {"type": "text", "fontSize": 8}, "encoding": {"x": {"datum": 41.4, "type": "quantitative"}, "y": {"datum": 38, "type": "quantitative"}, "text": {"value": "After"}}},
    {"data": {"values": [{}]}, "mark": {"type": "text", "fontSize": 13, "fontStyle": "italic"}, "encoding": {"x": {"datum": -129.6, "type": "quantitative"}, "y": {"datum": -24, "type": "quantitative"}, "text": {"value": "B"}}},
    {"data": {"values": [{}]}, "mark": {"type": "text", "fontSize": 10, "align": "left"}, "encoding": {"x": {"datum": -99.3, "type": "quantitative"}, "y": {"datum": -31, "type": "quantitative"}, "text": {"value": "LTD"}}}
  ]},
  {"width": 200, "height": 76, "layer": [
    {"data": {"name": "A"}, "mark": {"type": "circle", "opacity": 1},
     "encoding": {
       "x": {"field": "t", "type": "quantitative", "title": null, "scale": {"domain": [-30.62, 30.26], "nice": false, "zero": false}, "axis": {"values": [-20, 0, 20], "tickCount": 10}},
       "y": {"field": "a", "type": "quantitative", "title": "EPSC amplitude (pA)", "scale": {"domain": [0, 230], "nice": false, "zero": false}, "axis": {"values": [0, 100, 200], "tickCount": 10, "titlePadding": -1}},
       "color": {"field": "s", "type": "nominal", "scale": {"domain": ["EPSC 1", "EPSC 8-10"], "range": ["#bdbdbd", "#000000"]}, "legend": {"title": null, "orient": "none", "legendX": 13, "legendY": 46.5, "labelFontSize": 10, "symbolSize": 30, "symbolType": "circle", "rowPadding": 0.3, "labelOffset": 3, "padding": 0, "labelColor": "#000", "labelFont": "Liberation Sans"}},
       "size": {"field": "s", "type": "ordinal", "scale": {"domain": ["EPSC 1", "EPSC 8-10"], "range": [20, 32]}, "legend": null}}},
    {"data": {"name": "barsA"}, "mark": {"type": "rule", "strokeWidth": 5, "color": "#000"}, "encoding": {"x": {"field": "start", "type": "quantitative", "title": null}, "x2": {"field": "end"}, "y": {"datum": 51, "type": "quantitative"}}},
    {"data": {"name": "barsA"}, "transform": [{"fold": ["start", "end"]}], "mark": {"type": "text", "fontSize": 12}, "encoding": {"x": {"field": "value", "aggregate": "mean", "type": "quantitative", "title": null}, "y": {"datum": 23, "type": "quantitative"}, "text": {"field": "label"}, "detail": {"field": "id"}}},
    {"data": {"values": [{}]}, "mark": {"type": "text", "fontSize": 12}, "encoding": {"x": {"datum": 0, "type": "quantitative"}, "y": {"datum": 26, "type": "quantitative"}, "text": {"value": "tetanus"}}},
    {"data": {"values": [{}]}, "mark": {"type": "point", "shape": "M0,-1L0,1M-0.4,-0.55L0,-1L0.4,-0.55", "filled": false, "color": "#000", "strokeWidth": 1, "size": 220}, "encoding": {"x": {"datum": 0, "type": "quantitative"}, "y": {"datum": 66, "type": "quantitative"}}}
  ]},
  {"width": 200, "height": 76, "layer": [
    {"data": {"name": "B"}, "mark": {"type": "circle", "opacity": 1},
     "encoding": {
       "x": {"field": "t", "type": "quantitative", "title": null, "scale": {"domain": [-30.13, 45.77], "nice": false, "zero": false}, "axis": {"values": [-20, 0, 20, 40], "tickCount": 10}},
       "y": {"field": "a", "type": "quantitative", "title": null, "scale": {"domain": [0, 230], "nice": false, "zero": false}, "axis": {"values": [0, 100, 200], "tickCount": 10}},
       "color": {"condition": {"test": "datum.s === 'EPSC 1'", "value": "#bdbdbd"}, "value": "#000000"},
       "size": {"condition": {"test": "datum.s === 'EPSC 1'", "value": 20}, "value": 32}}},
    {"data": {"name": "barsB"}, "mark": {"type": "rule", "strokeWidth": 5, "color": "#000"}, "encoding": {"x": {"field": "start", "type": "quantitative", "title": null}, "x2": {"field": "end"}, "y": {"datum": 46, "type": "quantitative"}}},
    {"data": {"name": "barsB"}, "transform": [{"fold": ["start", "end"]}], "mark": {"type": "text", "fontSize": 12}, "encoding": {"x": {"field": "value", "aggregate": "mean", "type": "quantitative", "title": null}, "y": {"datum": 21, "type": "quantitative"}, "text": {"field": "label"}, "detail": {"field": "id"}}}
  ]},
  {"width": 200, "height": 121.3, "layer": [
    {"data": {"name": "trC"}, "transform": [{"filter": "datum.sw === 'Before'"}], "mark": {"type": "line", "color": "#9a9a9a", "strokeWidth": 1.2},
     "encoding": {"x": {"field": "ms", "type": "quantitative", "scale": {"domain": [-38.9, 338.5], "nice": false, "zero": false}, "axis": null}, "y": {"field": "pA", "type": "quantitative", "scale": {"domain": [-348, 804.4], "nice": false, "zero": false}, "axis": null}}},
    {"data": {"name": "trC"}, "transform": [{"filter": "datum.sw === 'After'"}], "mark": {"type": "line", "color": "#000", "strokeWidth": 1.2},
     "encoding": {"x": {"field": "ms", "type": "quantitative"}, "y": {"field": "pA", "type": "quantitative"}}},
    {"data": {"values": [{}]}, "mark": {"type": "rule", "color": "#000"}, "encoding": {"x": {"datum": 276, "type": "quantitative"}, "x2": {"datum": 316}, "y": {"datum": -193, "type": "quantitative"}}},
    {"data": {"values": [{}]}, "mark": {"type": "rule", "color": "#000"}, "encoding": {"x": {"datum": 316, "type": "quantitative"}, "y": {"datum": -193, "type": "quantitative"}, "y2": {"datum": -93}}},
    {"data": {"values": [{}]}, "mark": {"type": "rule", "color": "#8a8a8a", "strokeWidth": 0.8}, "encoding": {"x": {"datum": 188.7, "type": "quantitative"}, "x2": {"datum": 179.2}, "y": {"datum": 70, "type": "quantitative"}, "y2": {"datum": -9.7}}},
    {"data": {"values": [{}]}, "mark": {"type": "rule", "color": "#000", "strokeWidth": 0.8}, "encoding": {"x": {"datum": 138.5, "type": "quantitative"}, "x2": {"datum": 144.7}, "y": {"datum": -200, "type": "quantitative"}, "y2": {"datum": -152}}},
    {"data": {"values": [{}]}, "mark": {"type": "text", "fontSize": 8}, "encoding": {"x": {"datum": 292.5, "type": "quantitative"}, "y": {"datum": -238, "type": "quantitative"}, "text": {"value": "40 ms"}}},
    {"data": {"values": [{}]}, "mark": {"type": "text", "fontSize": 8, "angle": 270}, "encoding": {"x": {"datum": 342.8, "type": "quantitative"}, "y": {"datum": -57, "type": "quantitative"}, "text": {"value": "100 pA"}}},
    {"data": {"values": [{}]}, "mark": {"type": "text", "fontSize": 8, "color": "#8a8a8a"}, "encoding": {"x": {"datum": 212, "type": "quantitative"}, "y": {"datum": 54, "type": "quantitative"}, "text": {"value": "Before"}}},
    {"data": {"values": [{}]}, "mark": {"type": "text", "fontSize": 8}, "encoding": {"x": {"datum": 121, "type": "quantitative"}, "y": {"datum": -231, "type": "quantitative"}, "text": {"value": "After"}}},
    {"data": {"values": [{}]}, "mark": {"type": "text", "fontSize": 13, "fontStyle": "italic"}, "encoding": {"x": {"datum": -106.8, "type": "quantitative"}, "y": {"datum": 212.5, "type": "quantitative"}, "text": {"value": "C"}}},
    {"data": {"values": [{}]}, "mark": {"type": "text", "fontSize": 10, "align": "left"}, "encoding": {"x": {"datum": -64.2, "type": "quantitative"}, "y": {"datum": 180, "type": "quantitative"}, "text": {"value": "Strong LTP"}}}
  ]},
  {"width": 200, "height": 121.3, "layer": [
    {"data": {"name": "trD"}, "transform": [{"filter": "datum.sw === 'Before'"}], "mark": {"type": "line", "color": "#9a9a9a", "strokeWidth": 1.2},
     "encoding": {"x": {"field": "ms", "type": "quantitative", "scale": {"domain": [-81.5, 506.8], "nice": false, "zero": false}, "axis": null}, "y": {"field": "pA", "type": "quantitative", "scale": {"domain": [-329, 823.4], "nice": false, "zero": false}, "axis": null}}},
    {"data": {"name": "trD"}, "transform": [{"filter": "datum.sw === 'After'"}], "mark": {"type": "line", "color": "#000", "strokeWidth": 1.2},
     "encoding": {"x": {"field": "ms", "type": "quantitative"}, "y": {"field": "pA", "type": "quantitative"}}},
    {"data": {"values": [{}]}, "mark": {"type": "rule", "color": "#000"}, "encoding": {"x": {"datum": 410.9, "type": "quantitative"}, "x2": {"datum": 450.9}, "y": {"datum": -101, "type": "quantitative"}}},
    {"data": {"values": [{}]}, "mark": {"type": "rule", "color": "#000"}, "encoding": {"x": {"datum": 450.9, "type": "quantitative"}, "y": {"datum": -101, "type": "quantitative"}, "y2": {"datum": -1}}},
    {"data": {"values": [{}]}, "mark": {"type": "rule", "color": "#8a8a8a", "strokeWidth": 0.8}, "encoding": {"x": {"datum": 318.5, "type": "quantitative"}, "x2": {"datum": 299}, "y": {"datum": 56.7, "type": "quantitative"}, "y2": {"datum": -22}}},
    {"data": {"values": [{}]}, "mark": {"type": "rule", "color": "#000", "strokeWidth": 0.8}, "encoding": {"x": {"datum": 240.3, "type": "quantitative"}, "x2": {"datum": 255}, "y": {"datum": -164.6, "type": "quantitative"}, "y2": {"datum": -101}}},
    {"data": {"values": [{}]}, "mark": {"type": "text", "fontSize": 8}, "encoding": {"x": {"datum": 430.9, "type": "quantitative"}, "y": {"datum": -146, "type": "quantitative"}, "text": {"value": "40 ms"}}},
    {"data": {"values": [{}]}, "mark": {"type": "text", "fontSize": 8, "angle": 270}, "encoding": {"x": {"datum": 495, "type": "quantitative"}, "y": {"datum": -53, "type": "quantitative"}, "text": {"value": "100 pA"}}},
    {"data": {"values": [{}]}, "mark": {"type": "text", "fontSize": 8, "color": "#8a8a8a"}, "encoding": {"x": {"datum": 355.9, "type": "quantitative"}, "y": {"datum": 82, "type": "quantitative"}, "text": {"value": "Before"}}},
    {"data": {"values": [{}]}, "mark": {"type": "text", "fontSize": 8}, "encoding": {"x": {"datum": 214.7, "type": "quantitative"}, "y": {"datum": -196, "type": "quantitative"}, "text": {"value": "After"}}},
    {"data": {"values": [{}]}, "mark": {"type": "text", "fontSize": 13, "fontStyle": "italic"}, "encoding": {"x": {"datum": -147, "type": "quantitative"}, "y": {"datum": 231.5, "type": "quantitative"}, "text": {"value": "D"}}},
    {"data": {"values": [{}]}, "mark": {"type": "text", "fontSize": 10, "align": "left"}, "encoding": {"x": {"datum": -103, "type": "quantitative"}, "y": {"datum": 199, "type": "quantitative"}, "text": {"value": "Depotentiation"}}}
  ]},
  {"width": 200, "height": 77, "layer": [
    {"data": {"name": "C"}, "mark": {"type": "circle", "opacity": 1},
     "encoding": {
       "x": {"field": "t", "type": "quantitative", "title": "Time (min)", "scale": {"domain": [-30.62, 30.26], "nice": false, "zero": false}, "axis": {"values": [-20, 0, 20], "tickCount": 10, "titleFontSize": 15, "titlePadding": 4}},
       "y": {"field": "a", "type": "quantitative", "title": "EPSC amplitude (pA)", "scale": {"domain": [0, 268], "nice": false, "zero": false}, "axis": {"values": [0, 100, 200], "tickCount": 10, "titlePadding": -1}},
       "color": {"condition": {"test": "datum.s === 'EPSC 1'", "value": "#bdbdbd"}, "value": "#000000"},
       "size": {"condition": {"test": "datum.s === 'EPSC 1'", "value": 20}, "value": 32}}},
    {"data": {"name": "barsC"}, "mark": {"type": "rule", "strokeWidth": 5, "color": "#000"}, "encoding": {"x": {"field": "start", "type": "quantitative", "title": "Time (min)"}, "x2": {"field": "end"}, "y": {"datum": 66, "type": "quantitative"}}},
    {"data": {"name": "barsC"}, "transform": [{"fold": ["start", "end"]}], "mark": {"type": "text", "fontSize": 12}, "encoding": {"x": {"field": "value", "aggregate": "mean", "type": "quantitative", "title": "Time (min)"}, "y": {"datum": 35, "type": "quantitative"}, "text": {"field": "label"}, "detail": {"field": "id"}}},
    {"data": {"values": [{}]}, "mark": {"type": "text", "fontSize": 12}, "encoding": {"x": {"datum": 0, "type": "quantitative"}, "y": {"datum": 35, "type": "quantitative"}, "text": {"value": "4 tetani"}}},
    {"data": {"values": [{}]}, "mark": {"type": "point", "shape": "M0,-1L0,1M-0.4,-0.55L0,-1L0.4,-0.55", "filled": false, "color": "#000", "strokeWidth": 1, "size": 220}, "encoding": {"x": {"datum": 0, "type": "quantitative"}, "y": {"datum": 89.5, "type": "quantitative"}}}
  ]},
  {"width": 200, "height": 77, "layer": [
    {"data": {"name": "D"}, "mark": {"type": "circle", "opacity": 1},
     "encoding": {
       "x": {"field": "t", "type": "quantitative", "title": "Time (min)", "scale": {"domain": [-30.43, 50.71], "nice": false, "zero": false}, "axis": {"values": [-20, 0, 20, 40], "tickCount": 10, "titleFontSize": 15, "titlePadding": 4}},
       "y": {"field": "a", "type": "quantitative", "title": null, "scale": {"domain": [0, 268], "nice": false, "zero": false}, "axis": {"values": [0, 100, 200], "tickCount": 10}},
       "color": {"condition": {"test": "datum.s === 'EPSC 1'", "value": "#bdbdbd"}, "value": "#000000"},
       "size": {"condition": {"test": "datum.s === 'EPSC 1'", "value": 20}, "value": 32}}},
    {"data": {"name": "barsD"}, "mark": {"type": "rule", "strokeWidth": 5, "color": "#000"}, "encoding": {"x": {"field": "start", "type": "quantitative", "title": "Time (min)"}, "x2": {"field": "end"}, "y": {"datum": 60, "type": "quantitative"}}},
    {"data": {"name": "barsD"}, "transform": [{"fold": ["start", "end"]}], "mark": {"type": "text", "fontSize": 12}, "encoding": {"x": {"field": "value", "aggregate": "mean", "type": "quantitative", "title": "Time (min)"}, "y": {"datum": 29, "type": "quantitative"}, "text": {"field": "label"}, "detail": {"field": "id"}}},
    {"data": {"values": [{}]}, "mark": {"type": "text", "fontSize": 12}, "encoding": {"x": {"datum": -3.2, "type": "quantitative"}, "y": {"datum": 29, "type": "quantitative"}, "text": {"value": "tetanus"}}},
    {"data": {"values": [{}]}, "mark": {"type": "point", "shape": "M0,-1L0,1M-0.4,-0.55L0,-1L0.4,-0.55", "filled": false, "color": "#000", "strokeWidth": 1, "size": 220}, "encoding": {"x": {"datum": 0, "type": "quantitative"}, "y": {"datum": 95, "type": "quantitative"}}}
  ]},
  {"width": 200, "height": 79, "data": {"values": []}, "mark": "point", "encoding": {}},
  {"width": 200, "height": 79, "data": {"values": []}, "mark": "point", "encoding": {}},
  {"width": 200, "height": 108.5, "data": {"name": "E"}, "layer": [
    {"mark": {"type": "circle", "opacity": 1, "color": "#000", "size": 75},
     "encoding": {
       "x": {"field": "x", "type": "quantitative", "title": "% ΔEPSC", "scale": {"domain": [-71, 70], "range": [0, 230.3], "nice": false, "zero": false}, "axis": {"values": [-60, -40, -20, 0, 20, 40, 60], "tickCount": 20, "format": "d", "labelPadding": 4, "titlePadding": 4, "labelOverlap": false, "labelFontSize": 10.5}},
       "y": {"field": "y", "type": "quantitative", "title": "% ΔSTP ratio", "scale": {"domain": [-35, 65], "nice": false, "zero": false}, "axis": {"values": [-20, 0, 20, 40, 60], "tickCount": 20, "format": "d", "titlePadding": 4.5, "labelOverlap": false, "labelFontSize": 10.5}}}},
    {"mark": {"type": "rule", "color": "#000"}, "encoding": {"x": {"field": "xlo", "type": "quantitative", "title": "% ΔEPSC"}, "x2": {"field": "xhi"}, "y": {"field": "y", "type": "quantitative", "title": "% ΔSTP ratio"}}},
    {"mark": {"type": "rule", "color": "#000"}, "encoding": {"y": {"field": "ylo", "type": "quantitative", "title": "% ΔSTP ratio"}, "y2": {"field": "yhi"}, "x": {"field": "x", "type": "quantitative", "title": "% ΔEPSC"}}},
    {"transform": [{"fold": ["xlo", "xhi"], "as": ["end", "xv"]}], "mark": {"type": "tick", "orient": "vertical", "color": "#000", "size": 6, "thickness": 1}, "encoding": {"x": {"field": "xv", "type": "quantitative", "title": "% ΔEPSC"}, "y": {"field": "y", "type": "quantitative", "title": "% ΔSTP ratio"}}},
    {"transform": [{"fold": ["ylo", "yhi"], "as": ["end", "yv"]}], "mark": {"type": "tick", "orient": "horizontal", "color": "#000", "size": 6, "thickness": 1}, "encoding": {"x": {"field": "x", "type": "quantitative", "title": "% ΔEPSC"}, "y": {"field": "yv", "type": "quantitative", "title": "% ΔSTP ratio"}}},
    {"data": {"values": [{}]}, "mark": {"type": "rule", "color": "#000", "strokeDash": [1.5, 3], "strokeWidth": 1.5}, "encoding": {"x": {"datum": -71, "type": "quantitative"}, "x2": {"datum": 69}, "y": {"datum": 0, "type": "quantitative"}}},
    {"data": {"values": [{}]}, "mark": {"type": "rule", "color": "#000", "strokeDash": [1.5, 3], "strokeWidth": 1.5}, "encoding": {"x": {"datum": 0, "type": "quantitative"}, "y": {"datum": -35, "type": "quantitative"}, "y2": {"datum": 62}}},
    {"transform": [{"filter": "datum.c === 'LTD'"}], "mark": {"type": "text", "fontSize": 12, "align": "left", "dx": 10, "dy": -13}, "encoding": {"x": {"field": "x", "type": "quantitative", "title": "% ΔEPSC"}, "y": {"field": "y", "type": "quantitative", "title": "% ΔSTP ratio"}, "text": {"field": "c"}}},
    {"transform": [{"filter": "datum.c === 'Depotentiaion'"}], "mark": {"type": "text", "fontSize": 12, "align": "left", "dx": 7, "dy": -15}, "encoding": {"x": {"field": "x", "type": "quantitative", "title": "% ΔEPSC"}, "y": {"field": "y", "type": "quantitative", "title": "% ΔSTP ratio"}, "text": {"field": "c"}}},
    {"transform": [{"filter": "datum.c === 'Strong LTP'"}], "mark": {"type": "text", "fontSize": 12, "align": "left", "dx": -1, "dy": -11}, "encoding": {"x": {"field": "x", "type": "quantitative", "title": "% ΔEPSC"}, "y": {"field": "y", "type": "quantitative", "title": "% ΔSTP ratio"}, "text": {"field": "c"}}},
    {"transform": [{"filter": "datum.c === 'LTP'"}], "mark": {"type": "text", "fontSize": 12, "align": "left", "dx": 5, "dy": 12.6}, "encoding": {"x": {"field": "x", "type": "quantitative", "title": "% ΔEPSC"}, "y": {"field": "y", "type": "quantitative", "title": "% ΔSTP ratio"}, "text": {"field": "c"}}},
    {"data": {"values": [{}]}, "mark": {"type": "text", "fontSize": 13, "fontStyle": "italic"}, "encoding": {"x": {"datum": -93.6, "type": "quantitative"}, "y": {"datum": 66, "type": "quantitative"}, "text": {"value": "E"}}}
  ]}
]
}
